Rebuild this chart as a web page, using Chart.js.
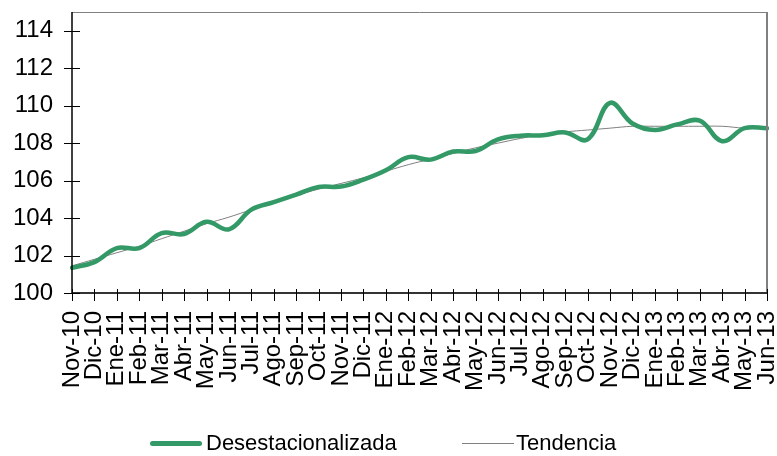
<!DOCTYPE html>
<html>
<head>
<meta charset="utf-8">
<script src="https://cdn.jsdelivr.net/npm/chart.js@4"></script>
<style>
  html, body { margin: 0; padding: 0; background: #fff; }
  #wrap { position: relative; width: 777px; height: 456px; }
  #grafico { display: block; }
  .leyenda { position: absolute; top: 430px; left: 0; height: 26px; font-family: "Liberation Sans", Arial, sans-serif; font-size: 22px; color: #000; }
  .item { position: absolute; top: 0; white-space: nowrap; line-height: 26px; }
  .linea { position: absolute; top: 13px; width: 52px; }
</style>
</head>
<body>
<div id="wrap">
  <canvas id="grafico" width="777" height="456"></canvas>
  <div class="leyenda">
    <div class="linea" style="left:150px; height:5px; margin-top:-2px; background:#339966; border-radius:3px;"></div>
    <div class="item" style="left:206px;">Desestacionalizada</div>
    <div class="linea" style="left:462px; height:1px; background:#808080;"></div>
    <div class="item" style="left:516px;">Tendencia</div>
  </div>
</div>
<script>
// --- DATOS ---
const meses = ['Nov-10', 'Dic-10', 'Ene-11', 'Feb-11', 'Mar-11', 'Abr-11', 'May-11', 'Jun-11',
    'Jul-11', 'Ago-11', 'Sep-11', 'Oct-11', 'Nov-11', 'Dic-11', 'Ene-12', 'Feb-12',
    'Mar-12', 'Abr-12', 'May-12', 'Jun-12', 'Jul-12', 'Ago-12', 'Sep-12', 'Oct-12',
    'Nov-12', 'Dic-12', 'Ene-13', 'Feb-13', 'Mar-13', 'Abr-13', 'May-13', 'Jun-13'];

const desestacionalizada = [101.35, 101.65, 102.4, 102.4, 103.2, 103.15, 103.8, 103.4,
    104.45, 104.85, 105.25, 105.66, 105.68, 106.05, 106.55, 107.25,
    107.12, 107.55, 107.58, 108.2, 108.4, 108.42, 108.57, 108.2,
    110.15, 109.05, 108.7, 109.0, 109.2, 108.1, 108.8, 108.8];

const tendencia = [101.45, 101.8, 102.15, 102.5, 102.9, 103.3, 103.7, 104.05,
    104.45, 104.85, 105.2, 105.55, 105.85, 106.15, 106.5, 106.85,
    107.15, 107.45, 107.75, 108.0, 108.25, 108.45, 108.6, 108.7,
    108.8, 108.9, 108.9, 108.9, 108.9, 108.9, 108.8, 108.8];

const yTicks = [100, 102, 104, 106, 108, 110, 112, 114];

// --- MARCAS DE EJES Y BORDE ---
const marcasEjes = {
    id: 'marcasEjes',
    afterDatasetsDraw(chart) {
        const { ctx, chartArea: a, scales } = chart;
        ctx.save();
        // borde superior y derecho
        ctx.strokeStyle = '#808080';
        ctx.lineWidth = 1;
        ctx.beginPath();
        ctx.moveTo(a.left, a.top + 0.5);
        ctx.lineTo(a.right, a.top + 0.5);
        ctx.stroke();
        ctx.lineWidth = 2;
        ctx.beginPath();
        ctx.moveTo(a.right, a.top);
        ctx.lineTo(a.right, a.bottom);
        ctx.stroke();
        // ejes
        ctx.strokeStyle = '#000';
        ctx.lineWidth = 1.5;
        ctx.beginPath();
        ctx.moveTo(a.left, a.top);
        ctx.lineTo(a.left, a.bottom);
        ctx.stroke();
        ctx.strokeStyle = '#333';
        ctx.lineWidth = 2;
        ctx.beginPath();
        ctx.moveTo(a.left, a.bottom);
        ctx.lineTo(a.right, a.bottom);
        ctx.stroke();
        // marcas
        ctx.strokeStyle = '#000';
        ctx.lineWidth = 1;
        ctx.beginPath();
        yTicks.forEach(v => {
            const y = Math.round(scales.y.getPixelForValue(v)) + 0.5;
            ctx.moveTo(a.left - 8, y);
            ctx.lineTo(a.left + 8, y);
        });
        meses.forEach((m, i) => {
            const x = Math.round(scales.x.getPixelForValue(i)) + 0.5;
            ctx.moveTo(x, a.bottom - 4);
            ctx.lineTo(x, a.bottom + 8);
        });
        ctx.stroke();
        ctx.restore();
    }
};

const ctx = document.getElementById('grafico').getContext('2d');
new Chart(ctx, {
    type: 'line',
    data: {
        labels: meses,
        datasets: [
            {
                label: 'Desestacionalizada',
                data: desestacionalizada,
                borderColor: '#339966',
                backgroundColor: '#339966',
                borderWidth: 4.5,
                borderCapStyle: 'round',
                pointRadius: 0,
                tension: 0.4,
                order: 0
            },
            {
                label: 'Tendencia',
                data: tendencia,
                borderColor: '#808080',
                backgroundColor: '#808080',
                borderWidth: 1,
                pointRadius: 0,
                tension: 0.4,
                order: 1
            }
        ]
    },
    options: {
        responsive: false,
        animation: false,
        layout: { padding: { left: 0, right: 10, top: 12, bottom: 0 } },
        plugins: {
            legend: { display: false },
            tooltip: { enabled: false }
        },
        scales: {
            x: {
                grid: { display: false, drawTicks: false },
                border: { display: false },
                ticks: {
                    autoSkip: false,
                    maxRotation: 90,
                    minRotation: 90,
                    padding: 18,
                    color: '#000',
                    font: { family: '"Liberation Sans", Arial, sans-serif', size: 24 }
                },
                afterFit(scale) {
                    scale.height = 163;
                    scale.paddingLeft = 0;
                    scale.paddingRight = 0;
                }
            },
            y: {
                min: 100,
                max: 115,
                bounds: 'data',
                grid: { display: false, drawTicks: false },
                border: { display: false },
                ticks: {
                    padding: 19,
                    color: '#000',
                    font: { family: '"Liberation Sans", Arial, sans-serif', size: 24 }
                },
                afterBuildTicks(scale) {
                    scale.ticks = yTicks.map(v => ({ value: v }));
                },
                afterFit(scale) {
                    scale.width = 72;
                    scale.paddingTop = 0;
                    scale.paddingBottom = 0;
                }
            }
        }
    },
    plugins: [marcasEjes]
});
</script>
</body>
</html>
